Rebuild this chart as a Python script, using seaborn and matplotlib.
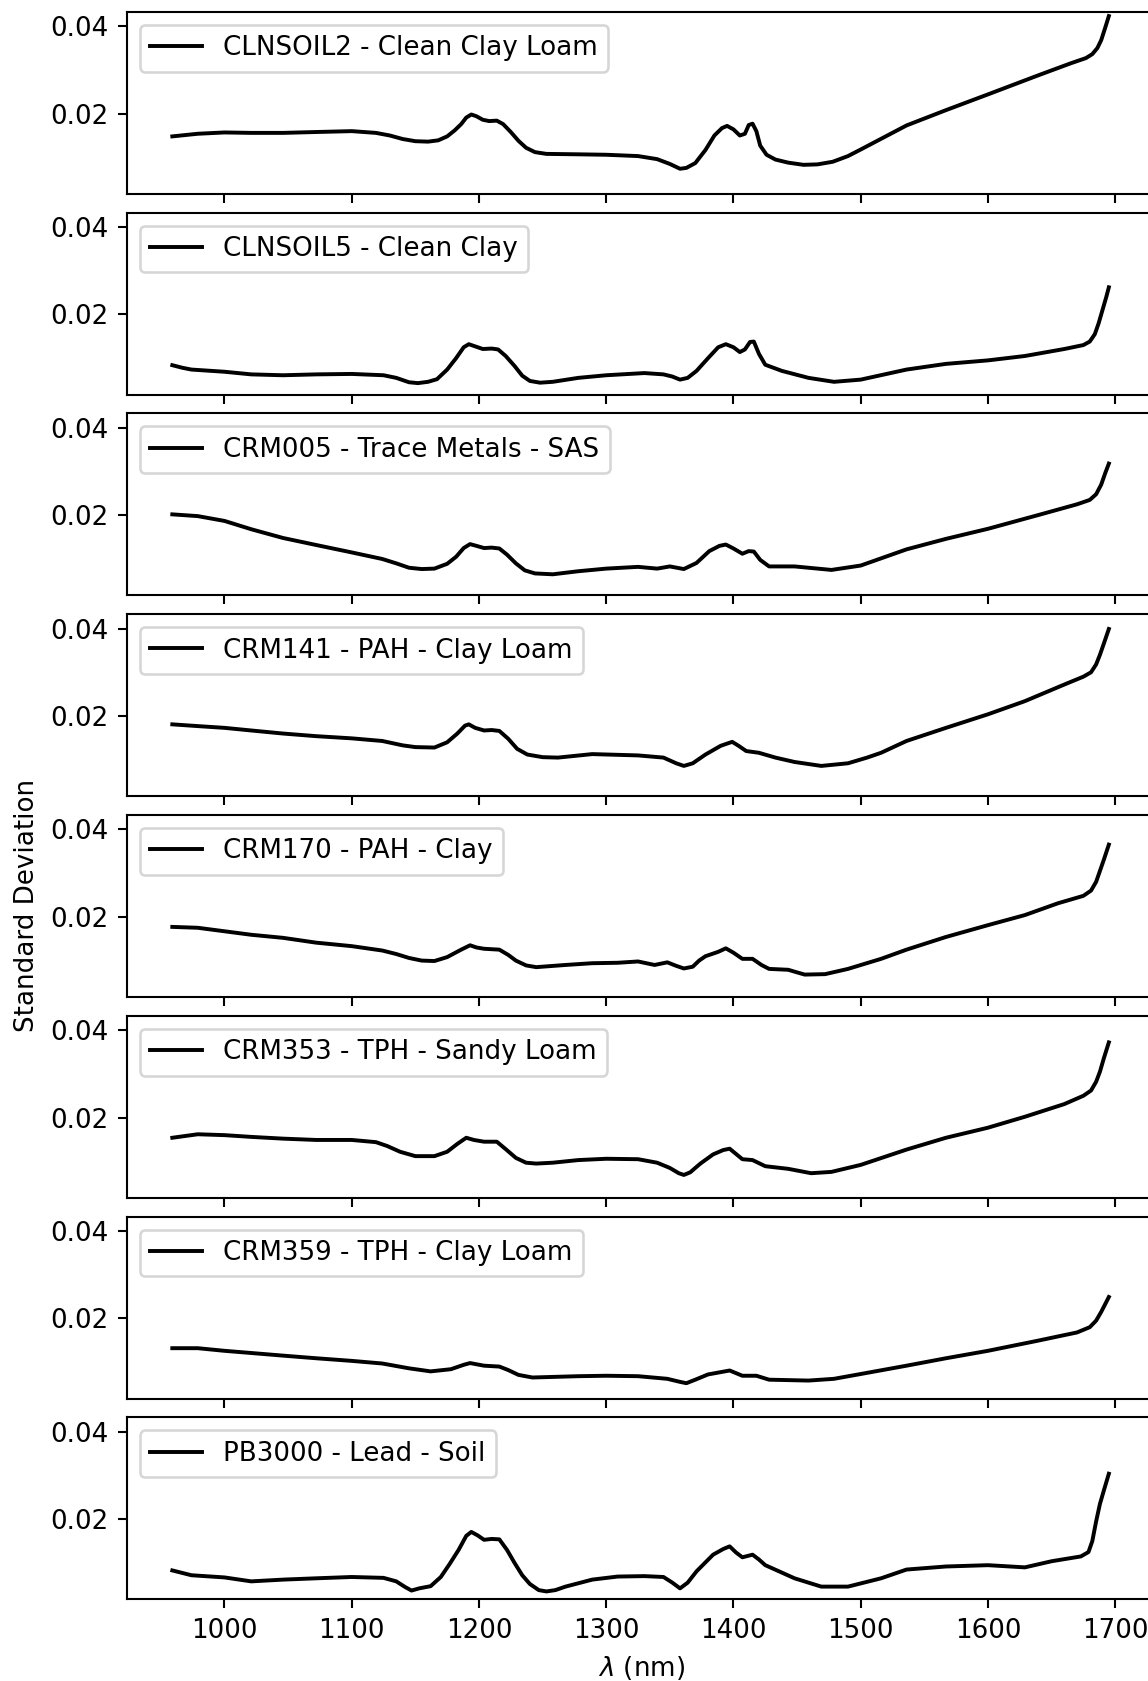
import matplotlib
matplotlib.use("Agg")
import matplotlib.pyplot as plt
import seaborn as sns

# Standard deviation of replicate NIR spectra for each reference soil
labels = [
    "CLNSOIL2 - Clean Clay Loam",
    "CLNSOIL5 - Clean Clay",
    "CRM005 - Trace Metals - SAS",
    "CRM141 - PAH - Clay Loam",
    "CRM170 - PAH - Clay",
    "CRM353 - TPH - Sandy Loam",
    "CRM359 - TPH - Clay Loam",
    "PB3000 - Lead - Soil",
]

wl_clnsoil2 = [959, 979, 1000, 1021, 1046, 1072, 1100, 1119, 1130, 1140, 1150, 1160, 1168, 1175, 1181,
               1186, 1190, 1194, 1198, 1203, 1208, 1214, 1219, 1225, 1231, 1237, 1244, 1253, 1278, 1300,
               1325, 1340, 1350, 1358, 1363, 1370, 1378, 1385, 1391, 1395, 1400, 1405, 1409, 1412, 1415,
               1418, 1421, 1426, 1433, 1443, 1455, 1466, 1478, 1490, 1500, 1536, 1567, 1600, 1639, 1665,
               1677, 1682, 1686, 1689, 1692, 1695]
sd_clnsoil2 = [0.0148, 0.0154, 0.0157, 0.0156, 0.0156, 0.0158, 0.0160, 0.0156, 0.0150, 0.0142, 0.0137,
               0.0136, 0.0139, 0.0148, 0.0162, 0.0176, 0.0191, 0.0198, 0.0194, 0.0186, 0.0183, 0.0184,
               0.0176, 0.0158, 0.0138, 0.0122, 0.0112, 0.0108, 0.0107, 0.0106, 0.0103, 0.0096, 0.0085,
               0.0074, 0.0076, 0.0087, 0.0117, 0.0150, 0.0167, 0.0172, 0.0164, 0.0150, 0.0154, 0.0174,
               0.0177, 0.0160, 0.0127, 0.0106, 0.0095, 0.0088, 0.0083, 0.0084, 0.0090, 0.0103, 0.0118,
               0.0173, 0.0208, 0.0244, 0.0287, 0.0315, 0.0327, 0.0336, 0.0350, 0.0368, 0.0395, 0.0423]

wl_clnsoil5 = [959, 967, 974, 1000, 1021, 1046, 1072, 1100, 1125, 1135, 1145, 1152, 1160, 1167, 1175,
               1182, 1188, 1192, 1197, 1203, 1210, 1215, 1221, 1228, 1234, 1240, 1248, 1258, 1278, 1300,
               1330, 1345, 1352, 1358, 1364, 1371, 1380, 1388, 1394, 1400, 1405, 1409, 1413, 1416, 1420,
               1425, 1438, 1459, 1479, 1500, 1536, 1567, 1600, 1629, 1660, 1675, 1680, 1684, 1687, 1690,
               1693, 1695]
sd_clnsoil5 = [0.0084, 0.0078, 0.0074, 0.0069, 0.0063, 0.0061, 0.0063, 0.0064, 0.0061, 0.0055, 0.0045,
               0.0043, 0.0046, 0.0052, 0.0074, 0.0100, 0.0125, 0.0132, 0.0127, 0.0121, 0.0122, 0.0120,
               0.0105, 0.0082, 0.0060, 0.0048, 0.0044, 0.0046, 0.0055, 0.0061, 0.0066, 0.0063, 0.0058,
               0.0051, 0.0055, 0.0071, 0.0100, 0.0125, 0.0132, 0.0125, 0.0114, 0.0120, 0.0137, 0.0138,
               0.0110, 0.0085, 0.0071, 0.0055, 0.0046, 0.0051, 0.0074, 0.0087, 0.0095, 0.0105, 0.0121,
               0.0130, 0.0138, 0.0155, 0.0180, 0.0210, 0.0240, 0.0262]

wl_crm005 = [959, 979, 1000, 1021, 1046, 1072, 1100, 1124, 1135, 1145, 1155, 1165, 1175, 1182, 1188,
             1193, 1198, 1204, 1210, 1216, 1222, 1229, 1236, 1244, 1258, 1278, 1300, 1325, 1340, 1350,
             1361, 1371, 1381, 1389, 1394, 1400, 1407, 1412, 1416, 1421, 1428, 1448, 1477, 1500, 1536,
             1567, 1600, 1639, 1670, 1680, 1685, 1689, 1692, 1695]
sd_crm005 = [0.0202, 0.0198, 0.0187, 0.0168, 0.0148, 0.0132, 0.0115, 0.0100, 0.0090, 0.0080, 0.0077,
             0.0078, 0.0089, 0.0105, 0.0125, 0.0134, 0.0130, 0.0125, 0.0126, 0.0124, 0.0110, 0.0090,
             0.0074, 0.0067, 0.0065, 0.0072, 0.0078, 0.0082, 0.0078, 0.0083, 0.0077, 0.0091, 0.0118,
             0.0130, 0.0133, 0.0124, 0.0112, 0.0118, 0.0117, 0.0098, 0.0083, 0.0083, 0.0075, 0.0085,
             0.0122, 0.0146, 0.0169, 0.0200, 0.0225, 0.0235, 0.0248, 0.0270, 0.0295, 0.0318]

wl_crm141 = [959, 979, 1000, 1021, 1046, 1072, 1100, 1124, 1140, 1150, 1165, 1175, 1183, 1189, 1192,
             1197, 1204, 1210, 1216, 1223, 1230, 1238, 1250, 1262, 1289, 1325, 1345, 1355, 1361, 1368,
             1378, 1390, 1399, 1404, 1410, 1420, 1433, 1448, 1469, 1490, 1505, 1516, 1536, 1567, 1600,
             1629, 1660, 1675, 1681, 1685, 1688, 1691, 1693, 1695]
sd_crm141 = [0.0181, 0.0177, 0.0173, 0.0167, 0.0160, 0.0154, 0.0149, 0.0143, 0.0133, 0.0129, 0.0128,
             0.0140, 0.0160, 0.0178, 0.0181, 0.0173, 0.0167, 0.0168, 0.0166, 0.0148, 0.0125, 0.0112,
             0.0106, 0.0105, 0.0113, 0.0110, 0.0105, 0.0092, 0.0086, 0.0092, 0.0112, 0.0132, 0.0141,
             0.0132, 0.0120, 0.0116, 0.0105, 0.0095, 0.0086, 0.0092, 0.0105, 0.0116, 0.0143, 0.0173,
             0.0204, 0.0234, 0.0272, 0.0290, 0.0300, 0.0318, 0.0340, 0.0365, 0.0382, 0.0399]

wl_crm170 = [959, 979, 1000, 1021, 1046, 1072, 1100, 1124, 1135, 1145, 1155, 1165, 1175, 1186, 1193,
             1198, 1204, 1216, 1223, 1229, 1237, 1245, 1268, 1289, 1309, 1325, 1338, 1348, 1355, 1361,
             1368, 1373, 1378, 1388, 1394, 1400, 1407, 1415, 1422, 1428, 1443, 1450, 1456, 1472, 1490,
             1516, 1536, 1567, 1600, 1629, 1655, 1675, 1681, 1685, 1688, 1691, 1695]
sd_crm170 = [0.0177, 0.0175, 0.0167, 0.0159, 0.0152, 0.0141, 0.0133, 0.0123, 0.0115, 0.0106, 0.0100,
             0.0099, 0.0108, 0.0125, 0.0135, 0.0130, 0.0127, 0.0125, 0.0113, 0.0100, 0.0089, 0.0085,
             0.0090, 0.0094, 0.0095, 0.0098, 0.0090, 0.0096, 0.0088, 0.0082, 0.0086, 0.0100, 0.0110,
             0.0120, 0.0128, 0.0118, 0.0104, 0.0104, 0.0090, 0.0081, 0.0079, 0.0073, 0.0068, 0.0069,
             0.0081, 0.0104, 0.0125, 0.0154, 0.0181, 0.0204, 0.0231, 0.0248, 0.0260, 0.0280, 0.0305,
             0.0330, 0.0365]

wl_crm353 = [959, 979, 1000, 1021, 1046, 1072, 1100, 1119, 1128, 1138, 1150, 1165, 1175, 1183, 1190,
             1196, 1204, 1214, 1221, 1229, 1237, 1245, 1258, 1278, 1300, 1325, 1340, 1350, 1357, 1361,
             1366, 1374, 1384, 1392, 1397, 1402, 1407, 1415, 1425, 1443, 1461, 1477, 1500, 1536, 1567,
             1600, 1629, 1660, 1675, 1681, 1685, 1688, 1691, 1695]
sd_crm353 = [0.0154, 0.0162, 0.0160, 0.0156, 0.0152, 0.0149, 0.0149, 0.0144, 0.0135, 0.0122, 0.0112,
             0.0112, 0.0122, 0.0140, 0.0154, 0.0149, 0.0145, 0.0145, 0.0128, 0.0108, 0.0097, 0.0095,
             0.0097, 0.0103, 0.0106, 0.0105, 0.0097, 0.0085, 0.0073, 0.0069, 0.0075, 0.0095, 0.0116,
             0.0126, 0.0129, 0.0117, 0.0105, 0.0103, 0.0089, 0.0083, 0.0073, 0.0076, 0.0092, 0.0127,
             0.0154, 0.0177, 0.0202, 0.0231, 0.0250, 0.0262, 0.0282, 0.0305, 0.0335, 0.0372]

wl_crm359 = [959, 979, 1000, 1021, 1046, 1072, 1100, 1124, 1145, 1162, 1178, 1188, 1193, 1204, 1216,
             1223, 1231, 1242, 1278, 1300, 1325, 1348, 1358, 1363, 1370, 1380, 1397, 1407, 1418, 1428,
             1459, 1479, 1500, 1536, 1567, 1600, 1639, 1670, 1680, 1685, 1689, 1692, 1695]
sd_crm359 = [0.0132, 0.0132, 0.0126, 0.0121, 0.0115, 0.0109, 0.0103, 0.0097, 0.0086, 0.0079, 0.0084,
             0.0094, 0.0098, 0.0092, 0.0090, 0.0082, 0.0071, 0.0065, 0.0068, 0.0069, 0.0068, 0.0062,
             0.0055, 0.0052, 0.0060, 0.0072, 0.0081, 0.0069, 0.0069, 0.0060, 0.0058, 0.0062, 0.0073,
             0.0092, 0.0109, 0.0126, 0.0149, 0.0168, 0.0180, 0.0195, 0.0215, 0.0232, 0.0249]

wl_pb3000 = [959, 974, 1000, 1021, 1046, 1072, 1100, 1125, 1135, 1142, 1147, 1153, 1162, 1170, 1177,
             1184, 1190, 1194, 1199, 1204, 1210, 1216, 1222, 1228, 1234, 1240, 1247, 1253, 1260, 1268,
             1289, 1309, 1330, 1345, 1352, 1358, 1364, 1371, 1384, 1392, 1397, 1402, 1407, 1415, 1420,
             1425, 1448, 1469, 1490, 1516, 1536, 1567, 1600, 1629, 1650, 1673, 1679, 1682, 1685, 1688,
             1691, 1695]
sd_pb3000 = [0.0083, 0.0072, 0.0067, 0.0058, 0.0062, 0.0065, 0.0068, 0.0066, 0.0058, 0.0045, 0.0037,
             0.0042, 0.0047, 0.0068, 0.0098, 0.0130, 0.0162, 0.0171, 0.0163, 0.0153, 0.0155, 0.0154,
             0.0130, 0.0100, 0.0072, 0.0052, 0.0038, 0.0035, 0.0038, 0.0046, 0.0062, 0.0069, 0.0070,
             0.0068, 0.0055, 0.0042, 0.0055, 0.0081, 0.0119, 0.0132, 0.0138, 0.0124, 0.0113, 0.0119,
             0.0108, 0.0095, 0.0065, 0.0046, 0.0046, 0.0065, 0.0085, 0.0092, 0.0095, 0.0090, 0.0104,
             0.0115, 0.0125, 0.0150, 0.0195, 0.0235, 0.0265, 0.0304]

wavelengths = [wl_clnsoil2, wl_clnsoil5, wl_crm005, wl_crm141, wl_crm170, wl_crm353, wl_crm359, wl_pb3000]
std_devs = [sd_clnsoil2, sd_clnsoil5, sd_crm005, sd_crm141, sd_crm170, sd_crm353, sd_crm359, sd_pb3000]

DPI = 188
fig = plt.figure(figsize=(1148 / DPI, 1681 / DPI), dpi=DPI)
gs = fig.add_gridspec(8, 1, left=0.1102, right=1.0069, top=0.99304, bottom=0.0486, hspace=0.1033)

axes = []
for i in range(8):
    ax = fig.add_subplot(gs[i, 0], sharex=axes[0] if axes else None)
    axes.append(ax)

for i, (ax, name, wl, sd) in enumerate(zip(axes, labels, wavelengths, std_devs)):
    sns.lineplot(x=wl, y=sd, ax=ax, color="black", linewidth=1.5,
                 estimator=None, sort=False, label=name)
    ax.set_xlim(923, 1732)
    ax.set_ylim(0.0017, 0.0433)
    ax.set_yticks([0.02, 0.04])
    ax.set_xticks([1000, 1100, 1200, 1300, 1400, 1500, 1600, 1700])
    ax.set_xlabel("")
    ax.set_ylabel("")
    ax.legend(loc="upper left")
    if i < 7:
        ax.tick_params(labelbottom=False)

axes[4].set_ylabel("Standard Deviation")
axes[-1].set_xlabel(r"$\lambda$ (nm)")

fig.savefig("out.png", dpi=DPI)
